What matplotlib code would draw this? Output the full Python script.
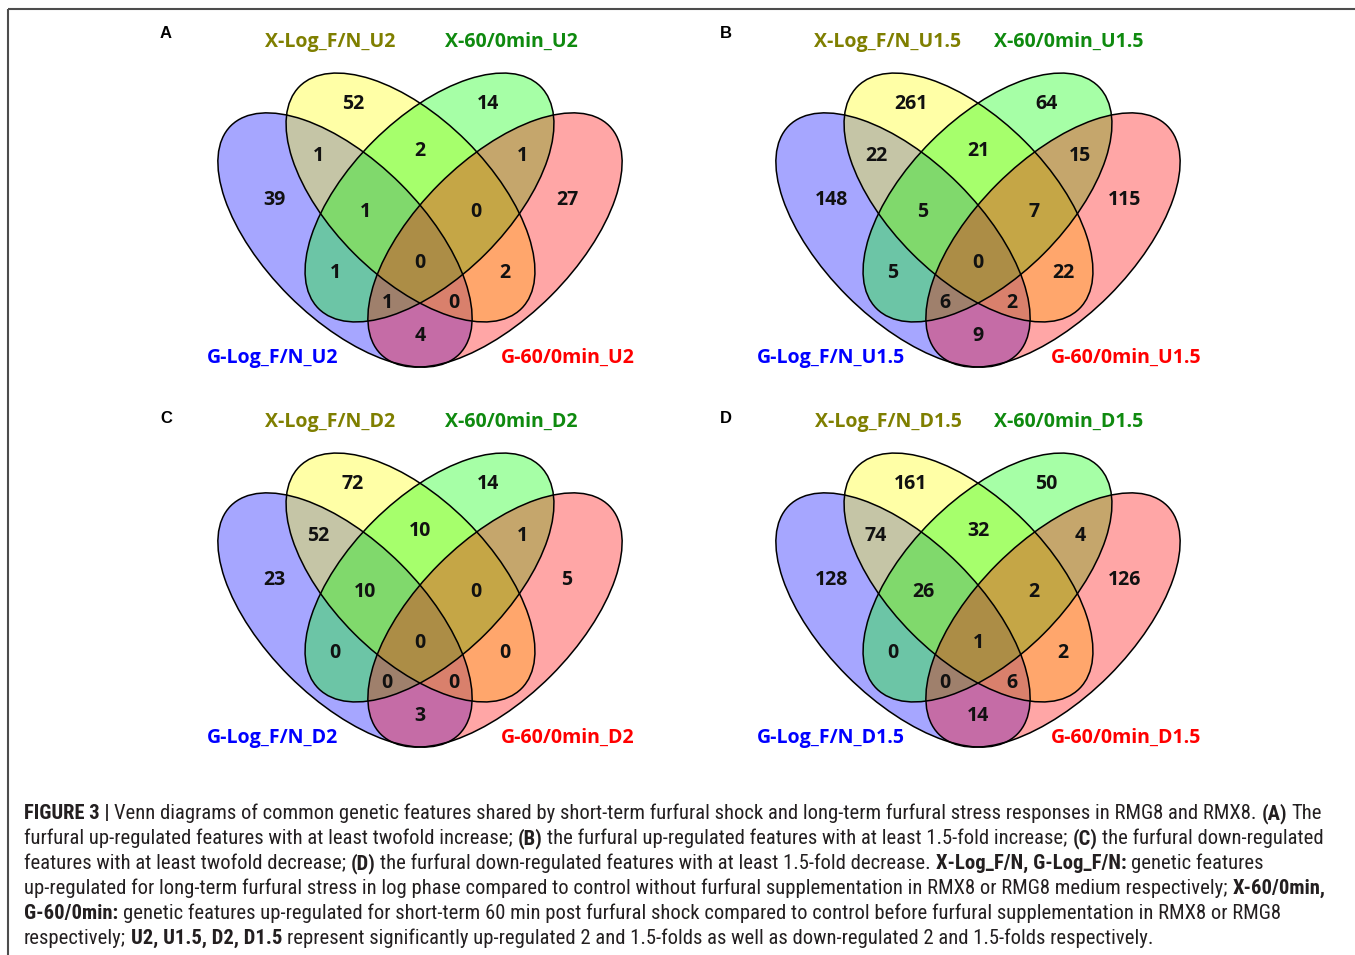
import matplotlib
matplotlib.use('Agg')
import matplotlib.pyplot as plt
from matplotlib import font_manager
from matplotlib.patches import Ellipse

# conteos por region (orden: G, XL, X60, G60, G&XL, XL&X60, X60&G60,
# G&XL&X60, XL&X60&G60, G&X60, todos, XL&G60, G&X60&G60, G&XL&G60, G&G60)
counts_A = [39, 52, 14, 27, 1, 2, 1, 1, 0, 1, 0, 2, 1, 0, 4]
counts_B = [148, 261, 64, 115, 22, 21, 15, 5, 7, 5, 0, 22, 6, 2, 9]
counts_C = [23, 72, 14, 5, 52, 10, 1, 10, 0, 0, 0, 0, 0, 0, 3]
counts_D = [128, 161, 50, 126, 74, 32, 4, 26, 2, 0, 1, 2, 0, 6, 14]
panel_letters = ['A', 'B', 'C', 'D']
suffixes = ['U2', 'U1.5', 'D2', 'D1.5']
set_names = ['X-Log_F/N_', 'X-60/0min_', 'G-Log_F/N_', 'G-60/0min_']

caption = [
    [('FIGURE 3 |', True),
     (' Venn diagrams of common genetic features shared by short-term furfural shock and long-term furfural stress responses in RMG8 and RMX8. ', False),
     ('(A)', True), (' The', False)],
    [('furfural up-regulated features with at least twofold increase; ', False), ('(B)', True),
     (' the furfural up-regulated features with at least 1.5-fold increase; ', False), ('(C)', True),
     (' the furfural down-regulated', False)],
    [('features with at least twofold decrease; ', False), ('(D)', True),
     (' the furfural down-regulated features with at least 1.5-fold decrease. ', False),
     ('X-Log_F/N, G-Log_F/N:', True), (' genetic features', False)],
    [('up-regulated for long-term furfural stress in log phase compared to control without furfural supplementation in RMX8 or RMG8 medium respectively; ', False),
     ('X-60/0min,', True)],
    [('G-60/0min:', True),
     (' genetic features up-regulated for short-term 60 min post furfural shock compared to control before furfural supplementation in RMX8 or RMG8', False)],
    [('respectively; ', False), ('U2, U1.5, D2, D1.5', True),
     (' represent significantly up-regulated 2 and 1.5-folds as well as down-regulated 2 and 1.5-folds respectively.', False)],
]


def pick_font(names):
    for n in names:
        try:
            font_manager.findfont(font_manager.FontProperties(family=n), fallback_to_default=False)
            return n
        except ValueError:
            pass
    return 'DejaVu Sans'


venn_font = pick_font(['Open Sans', 'DejaVu Sans'])
cap_font = pick_font(['Liberation Sans Narrow', 'Roboto Condensed', 'Roboto', 'Liberation Sans'])

W, H = 1355, 955
fig = plt.figure(figsize=(W / 100, H / 100), dpi=100)
bg = fig.add_axes([0, 0, 1, 1])
bg.set_xlim(0, W)
bg.set_ylim(H, 0)
bg.axis('off')

# marco
bg.plot([8, W], [9, 9], color='#4d4d4d', lw=1.5, solid_capstyle='butt')
bg.plot([8, 8], [9, H], color='#4d4d4d', lw=1.5, solid_capstyle='butt')

# geometria (pixeles del panel A, eje y hacia abajo)
ellipses = [  # cx, cy, ancho, alto, angulo, color
    (345, 240, 323, 158, 45, (0, 0, 1)),
    (410.5, 197.5, 314, 159, 45, (1, 1, 0)),
    (429.5, 197.5, 314, 159, -45, (0, 1, 0)),
    (495, 240, 323, 158, -45, (1, 0, 0)),
]
region_xy = [(274, 200), (353, 104), (488, 104), (567, 200),
             (318, 156), (420, 151), (522, 156),
             (365, 212), (476, 212),
             (335, 273), (420, 263), (505, 273),
             (387, 303), (454, 303), (420, 336)]
label_xy = [(330, 42), (511, 42), (273, 358), (568, 358)]
label_colors = ['#7f7f00', '#0f8a0f', '#0000ff', '#ff0000']
offsets = [(0, 0), (558, 0), (0, 380), (558, 380)]
letter_xy = [(166, 33), (726, 33), (166, 418), (726, 418)]

all_counts = [counts_A, counts_B, counts_C, counts_D]
for k in range(4):
    ox, oy = offsets[k]
    x0, x1, y0, y1 = 140, 700, 15, 395
    ax = fig.add_axes([(x0 + ox) / W, 1 - (y1 + oy) / H, (x1 - x0) / W, (y1 - y0) / H])
    ax.set_xlim(x0, x1)
    ax.set_ylim(y1, y0)
    ax.axis('off')
    for cx, cy, w, h, ang, c in ellipses:
        ax.add_patch(Ellipse((cx, cy), w, h, angle=ang, facecolor=c + (0.35,), edgecolor='none'))
    for cx, cy, w, h, ang, c in ellipses:
        ax.add_patch(Ellipse((cx, cy), w, h, angle=ang, fill=False, edgecolor='black', lw=1.1))
    for (x, y), n in zip(region_xy, all_counts[k]):
        ax.text(x, y, str(n), ha='center', va='center', fontsize=14, fontweight='bold',
                family=venn_font, color='#111111')
    for (x, y), name, col in zip(label_xy, set_names, label_colors):
        ax.text(x, y, name + suffixes[k], ha='center', va='center', fontsize=14,
                fontweight='bold', family=venn_font, color=col)
    bg.text(letter_xy[k][0], letter_xy[k][1], panel_letters[k], ha='center', va='center',
            fontsize=12, fontweight='bold', family='Liberation Sans', color='black')

# leyenda de la figura
renderer = fig.canvas.get_renderer()


def text_width(s, fs, bold):
    t = bg.text(0, 0, s, fontsize=fs, family=cap_font, fontweight='bold' if bold else 'normal')
    w = t.get_window_extent(renderer).width
    t.remove()
    return w


def draw_line(x, y, runs, fs, draw=True):
    for s, bold in runs:
        sp = text_width('x x', fs, bold) - text_width('xx', fs, bold)
        lead = len(s) - len(s.lstrip(' '))
        trail = len(s) - len(s.rstrip(' '))
        x += lead * sp
        core = s.strip(' ')
        if draw:
            t = bg.text(x, y, core, fontsize=fs, family=cap_font, color='#231f20',
                        fontweight='bold' if bold else 'normal', va='baseline')
            x += t.get_window_extent(renderer).width
        else:
            x += text_width(core, fs, bold)
        x += trail * sp
    return x


fs = 12
w1 = draw_line(0, 0, caption[0], fs, draw=False)
fs = fs * 1293 / w1
for i, line in enumerate(caption):
    draw_line(24, 819 + 25 * i, line, fs)

fig.savefig('out.png', dpi=100)
